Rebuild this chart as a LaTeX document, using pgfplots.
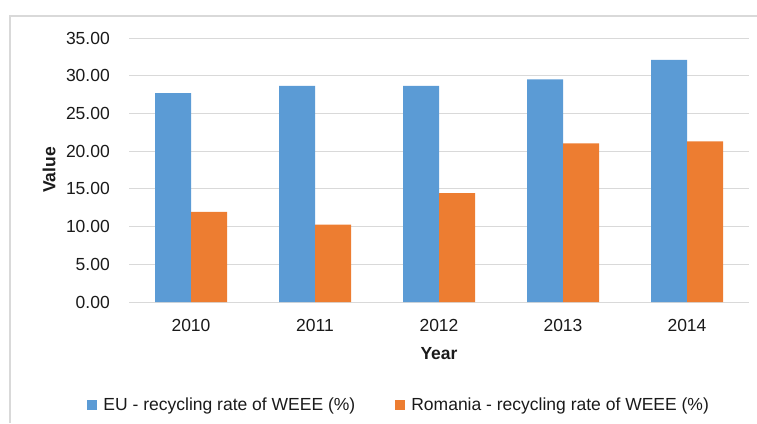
\documentclass[border=0pt]{standalone}
\usepackage{fontspec}
\setmainfont{Liberation Sans}
\usepackage{pgfplots}
\pgfplotsset{compat=1.18}
\definecolor{eublue}{HTML}{5B9BD5}
\definecolor{roorange}{HTML}{ED7D31}
\definecolor{gridgray}{HTML}{D9D9D9}
\definecolor{txt}{HTML}{1A1A1A}
\newcommand{\chartfont}{\fontsize{17.5}{21}\selectfont}
\begin{document}
\begin{tikzpicture}
\useasboundingbox (0pt,0pt) rectangle (757pt,-423pt);
\draw[gridgray, line width=1.5pt] (10pt,-423pt) -- (10pt,-16pt) -- (757pt,-16pt);
\begin{axis}[
  at={(129pt,-302pt)}, anchor=south west,
  scale only axis, width=620pt, height=264pt,
  xmin=-0.5, xmax=4.5, ymin=0, ymax=35,
  ybar=0pt, bar width=36pt,
  xtick={0,1,2,3,4}, xticklabels={2010,2011,2012,2013,2014},
  ytick={0,5,10,15,20,25,30,35},
  ymajorgrids, grid style={gridgray, line width=1pt},
  axis line style={draw=none},
  major tick length=0pt,
  tick style={draw=none},
  tick label style={font=\chartfont, text=txt, inner sep=0pt},
  yticklabel style={anchor=east, xshift=-19pt,
    /pgf/number format/.cd, fixed, fixed zerofill, precision=2, assume math mode=true},
  xticklabel style={anchor=north, yshift=-17pt},
  xlabel={Year}, ylabel={Value},
  label style={font=\bfseries\chartfont, text=txt},
  xlabel style={at={(axis description cs:0.5,-0.197)}, anchor=center},
  ylabel style={at={(axis description cs:-0.129,0.5)}, anchor=center},
  legend columns=2,
  legend style={at={(axis description cs:-0.0673,-0.390)}, anchor=west,
    draw=none, fill=none, font=\chartfont, text=txt, inner sep=0pt,
    /tikz/every even column/.append style={column sep=40pt},
    nodes={inner sep=0pt}},
  legend image code/.code={\fill[#1] (0pt,-5pt) rectangle (10pt,5pt);},
  legend cell align=left,
]
\addplot[fill=eublue, draw=none] coordinates {(0,27.70) (1,28.67) (2,28.67) (3,29.51) (4,32.10)};
\addlegendentry{\hspace{6pt}EU - recycling rate of WEEE (\%)}
\addplot[fill=roorange, draw=none] coordinates {(0,11.96) (1,10.25) (2,14.42) (3,21.02) (4,21.28)};
\addlegendentry{\hspace{6pt}Romania - recycling rate of WEEE (\%)}
\end{axis}
\end{tikzpicture}
\end{document}
